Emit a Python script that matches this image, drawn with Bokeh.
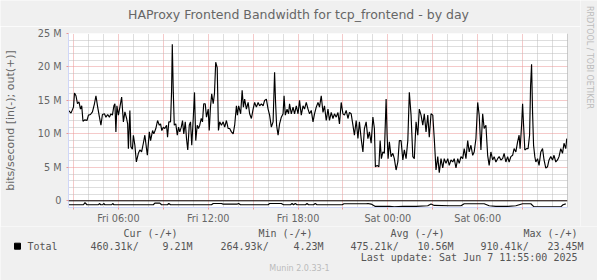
import datetime as dt
from math import pi

from bokeh.plotting import figure
from bokeh.layouts import column, row
from bokeh.models import (Range1d, FixedTicker, DatetimeTickFormatter, Span)
from bokeh.core.properties import value
from bokeh.embed import file_html
from bokeh.resources import INLINE

# ---------------- data ----------------
TITLE = "HAProxy Frontend Bandwidth for tcp_frontend - by day"
Y_LABEL = "bits/second [in(-); out(+)]"
WATERMARK = "RRDTOOL / TOBI OETIKER"
FOOTER = "Munin 2.0.33-1"
START = dt.datetime(2025, 6, 6, 2, 40)
END = dt.datetime(2025, 6, 7, 12, 0)

# minutes after START, and outbound traffic in Mbit/s (positive side)
out_minutes = [0, 10, 20, 24, 30, 36, 42, 48, 53, 58, 66, 74, 80, 88, 96, 104, 110, 117, 124, 130,
               136, 144, 150, 157, 164, 170, 176, 182, 186, 190, 194, 200, 206, 213, 220, 226, 233, 237, 240, 246,
               250, 256, 260, 266, 272, 280, 286, 293, 300, 306, 316, 324, 329, 337, 342, 350, 357, 364, 369, 374,
               380, 386, 393, 397, 402, 409, 413, 416, 420, 424, 430, 436, 441, 446, 452, 457, 462, 468, 473, 478,
               484, 489, 494, 500, 505, 510, 516, 521, 526, 532, 537, 542, 548, 553, 560, 564, 569, 574, 580, 585,
               590, 596, 601, 606, 613, 620, 626, 633, 640, 646, 653, 660, 666, 673, 677, 682, 690, 696, 701, 706,
               713, 720, 726, 733, 740, 746, 753, 760, 766, 773, 780, 786, 793, 800, 806, 813, 820, 826, 830, 834,
               840, 846, 853, 860, 864, 869, 876, 882, 886, 893, 900, 906, 913, 920, 926, 933, 940, 946, 953, 960,
               966, 973, 980, 986, 993, 1000, 1006, 1013, 1020, 1026, 1033, 1040, 1046, 1053, 1060, 1066, 1073, 1080, 1086, 1093,
               1100, 1106, 1113, 1120, 1126, 1133, 1140, 1146, 1153, 1160, 1166, 1173, 1180, 1186, 1193, 1200, 1206, 1213, 1220, 1226,
               1230, 1237, 1244, 1249, 1254, 1260, 1266, 1273, 1277, 1281, 1286, 1293, 1300, 1306, 1313, 1320, 1326, 1333, 1340, 1346,
               1353, 1360, 1366, 1373, 1380, 1386, 1393, 1400, 1406, 1413, 1420, 1426, 1433, 1440, 1446, 1453, 1460, 1466, 1473, 1480,
               1486, 1493, 1500, 1506, 1513, 1520, 1526, 1533, 1540, 1546, 1553, 1560, 1566, 1573, 1580, 1586, 1593, 1600, 1606, 1613,
               1620, 1626, 1633, 1640, 1646, 1653, 1660, 1666, 1673, 1680, 1686, 1693, 1700, 1706, 1713, 1720, 1726, 1733, 1740, 1746,
               1753, 1760, 1766, 1773, 1780, 1786, 1793, 1800, 1806, 1810, 1816, 1820, 1824, 1829, 1836, 1842, 1848, 1852, 1856, 1860,
               1864, 1869, 1873, 1880, 1886, 1893, 1900, 1906, 1913, 1920, 1926, 1933, 1940, 1946, 1953, 1960, 1966, 1973, 1980, 1986,
               1993, 1997]
out_mbit = [13.5, 13.1, 14.0, 16.1, 15.7, 14.5, 14.8, 13.7, 14.2, 11.9, 12.1, 12.0, 12.8, 12.9, 13.3, 14.5, 15.7, 14.0, 12.5, 11.3,
            12.9, 13.0, 12.5, 12.9, 12.5, 13.0, 12.8, 14.2, 14.5, 10.3, 14.2, 12.8, 14.0, 15.5, 11.8, 13.3, 12.3, 11.5, 7.8, 13.5,
            8.1, 7.7, 9.8, 8.3, 5.8, 7.1, 7.6, 7.3, 8.6, 9.8, 6.8, 10.3, 9.0, 10.5, 10.0, 10.8, 12.0, 11.3, 11.5, 10.5,
            11.0, 10.8, 11.3, 9.5, 11.8, 11.8, 16.2, 23.4, 16.2, 11.3, 11.5, 9.8, 11.0, 10.3, 11.0, 12.0, 10.0, 11.8, 9.3, 7.6,
            11.3, 11.8, 8.3, 12.3, 16.2, 9.0, 11.3, 10.8, 11.3, 12.3, 11.8, 14.5, 14.5, 12.5, 13.7, 10.5, 14.0, 16.0, 14.5, 16.0,
            20.7, 19.9, 10.5, 11.8, 11.3, 11.8, 11.0, 12.0, 10.8, 10.8, 10.3, 10.0, 11.3, 14.2, 12.8, 14.2, 13.0, 16.5, 14.0, 15.2,
            13.7, 14.7, 13.0, 12.3, 13.7, 14.7, 14.0, 14.7, 14.2, 14.5, 14.2, 15.0, 15.2, 13.7, 12.8, 11.0, 11.8, 19.2, 14.7, 11.3,
            9.8, 11.5, 12.5, 13.0, 15.7, 12.8, 13.7, 13.0, 14.5, 13.0, 14.0, 13.0, 14.2, 13.0, 15.0, 12.8, 14.2, 13.7, 14.7, 13.7,
            13.0, 13.5, 11.8, 13.0, 14.0, 14.7, 14.0, 15.7, 13.2, 14.2, 12.0, 13.7, 12.0, 13.2, 12.3, 13.0, 12.5, 13.2, 11.5, 14.7,
            13.0, 12.8, 13.5, 12.3, 13.2, 13.0, 11.3, 9.8, 12.0, 9.3, 11.8, 9.3, 7.3, 10.8, 11.8, 9.3, 10.3, 8.6, 12.5, 10.8,
            5.1, 5.3, 5.1, 9.0, 6.3, 7.3, 7.1, 15.2, 9.8, 6.3, 8.8, 6.6, 7.1, 6.3, 4.6, 5.8, 9.0, 9.0, 6.1, 7.6,
            6.3, 9.0, 16.2, 12.8, 6.6, 6.3, 11.8, 9.8, 13.7, 12.8, 11.3, 13.0, 10.3, 12.8, 9.5, 13.0, 12.8, 9.3, 4.6, 6.6,
            4.2, 6.3, 4.9, 6.3, 5.6, 6.3, 5.3, 6.1, 5.8, 6.3, 4.9, 6.3, 5.6, 6.6, 6.3, 7.8, 6.3, 9.0, 7.3, 8.3,
            6.8, 7.3, 9.3, 14.7, 12.8, 7.6, 13.0, 10.8, 11.3, 6.8, 5.3, 7.3, 6.1, 6.6, 5.8, 6.3, 6.6, 6.1, 6.3, 7.1,
            5.8, 6.6, 5.8, 6.6, 6.8, 7.8, 7.3, 8.8, 9.8, 7.8, 11.3, 14.5, 11.3, 7.6, 7.8, 7.8, 9.8, 17.2, 20.4, 13.2,
            8.3, 6.6, 5.8, 6.3, 5.3, 7.3, 7.8, 6.1, 4.9, 5.1, 6.1, 6.6, 6.1, 6.8, 5.8, 6.1, 6.6, 7.8, 7.1, 8.6,
            7.8, 9.3]

# inbound traffic drawn on the negative side (Mbit/s)
in_minutes = [0, 60, 66, 74, 120, 124, 129, 137, 141, 146, 173, 177, 182, 340, 346, 366, 373, 397, 402, 409,
              573, 580, 613, 620, 677, 682, 689, 800, 806, 853, 862, 890, 896, 902, 909, 916, 950, 956, 962, 982,
              989, 996, 1097, 1104, 1193, 1200, 1213, 1230, 1287, 1306, 1340, 1393, 1440, 1453, 1466, 1526, 1573, 1586, 1666, 1686,
              1713, 1760, 1793, 1820, 1853, 1866, 1973, 1982, 1993]
in_mbit = [-0.59, -0.59, -0.27, -0.59, -0.59, -0.40, -0.59, -0.59, -0.40, -0.59, -0.59, -0.40, -0.59, -0.59, -0.35, -0.35, -0.59, -0.59, -0.40, -0.59,
           -0.59, -0.40, -0.40, -0.49, -0.49, -0.40, -0.59, -0.59, -0.40, -0.40, -0.59, -0.59, -0.40, -0.59, -0.40, -0.59, -0.59, -0.40, -0.59, -0.59,
           -0.40, -0.59, -0.59, -0.44, -0.44, -0.40, -0.49, -0.84, -0.84, -0.90, -0.84, -0.84, -0.74, -0.49, -0.69, -0.74, -0.74, -0.44, -0.44, -0.74,
           -0.84, -0.84, -0.74, -0.44, -0.44, -0.90, -0.90, -0.59, -0.46]

y_ticks = [0, 5, 10, 15, 20, 25]
y_tick_labels = ["0", "5 M", "10 M", "15 M", "20 M", "25 M"]

series_name = "Total"
stat_headers = ["Cur (-/+)", "Min (-/+)", "Avg (-/+)", "Max (-/+)"]
stat_in = ["460.31k/", "264.93k/", "475.21k/", "910.41k/"]
stat_out = ["9.21M", "4.23M", "10.56M", "23.45M"]
last_update = "Last update: Sat Jun  7 11:55:00 2025"

# ---------------- styling / layout ----------------
BACK = "#F0F0F0"
FONT_COL = "#666666"
LEG_COL = "#555555"
WM_COL = "#BBBBBB"
AXIS_COL = "#CFD6F8"
MGRID = "#EB9595"
GRID = "#BDBDBD"
SANS = "DejaVu Sans"
MONO = "DejaVu Sans Mono"

W, H = 597, 280
MAIN_W = 580                       # chart column width; watermark strip to its right
TOP_H = 26                         # title strip height
CHART_H = 200                      # chart figure height (below title strip)
FL, FR, FT, FB = 67, 567, 33, 208  # frame edges in canvas pixels


def ms(t):
    return (t - dt.datetime(1970, 1, 1)).total_seconds() * 1000.0


out_x = [START + dt.timedelta(minutes=m) for m in out_minutes]
in_x = [START + dt.timedelta(minutes=m) for m in in_minutes]

hours = []
t = dt.datetime(2025, 6, 6, 3, 0)
while t < END:
    hours.append(t)
    t += dt.timedelta(hours=1)
six_h = [ms(h) for h in hours if h.hour % 6 == 0]
three_h = [ms(h) for h in hours if h.hour % 3 == 0]
three_only = [ms(h) for h in hours if h.hour % 3 == 0 and h.hour % 6 != 0]
one_h = [ms(h) for h in hours if h.hour % 3 != 0]


def blank(width, height):
    f = figure(width=width, height=height, x_range=Range1d(0, width),
               y_range=Range1d(height, 0), output_backend="svg",
               toolbar_location=None, title=None,
               x_axis_location=None, y_axis_location=None,
               min_border=0, min_border_left=0, min_border_right=0,
               min_border_top=0, min_border_bottom=0)
    f.grid.visible = False
    f.outline_line_color = None
    f.background_fill_color = BACK
    f.border_fill_color = BACK
    return f


# ---------- title strip ----------
tt = blank(MAIN_W, TOP_H)
tt.text(x=[298], y=[14], text=[TITLE], text_font=value(SANS),
        text_font_size=value("12.5px"), text_color=FONT_COL,
        text_align="center", text_baseline="middle")

# ---------- main chart ----------
top_off = FT - TOP_H
p = figure(width=MAIN_W, height=CHART_H, x_axis_type="datetime",
           x_range=Range1d(START, END), y_range=Range1d(-1, 25),
           output_backend="svg", toolbar_location=None, title=None,
           min_border_left=FL, min_border_right=MAIN_W - FR,
           min_border_top=top_off, min_border_bottom=TOP_H + CHART_H - FB)
p.border_fill_color = BACK
p.background_fill_color = "white"
p.outline_line_color = None

p.xgrid.ticker = FixedTicker(ticks=three_h, minor_ticks=one_h)
p.ygrid.ticker = FixedTicker(ticks=y_ticks,
                             minor_ticks=[v for v in range(-1, 25) if v % 5 != 0])
for g in (p.xgrid[0], p.ygrid[0]):
    g.grid_line_color = MGRID
    g.grid_line_dash = "1 1"
    g.minor_grid_line_color = GRID
    g.minor_grid_line_dash = "1 1"

fmt = "%a %H:%M"
p.xaxis.ticker = FixedTicker(ticks=six_h, minor_ticks=three_only)
p.xaxis.formatter = DatetimeTickFormatter(hours=fmt, hourmin=fmt, days=fmt,
                                          minutes=fmt, minsec=fmt)
p.yaxis.ticker = FixedTicker(ticks=y_ticks, minor_ticks=[])
p.yaxis.major_label_overrides = dict(zip(y_ticks, y_tick_labels))
for ax in (p.xaxis[0], p.yaxis[0]):
    ax.axis_line_color = AXIS_COL
    ax.major_tick_line_color = MGRID
    ax.minor_tick_line_color = MGRID
    ax.major_tick_in = 0
    ax.minor_tick_in = 0
    ax.major_tick_out = 2
    ax.minor_tick_out = 2
    ax.major_label_text_font = SANS
    ax.major_label_text_font_size = "9.7px"
    ax.major_label_text_color = FONT_COL
p.xaxis.major_label_standoff = 3
p.yaxis.major_label_standoff = 5
p.yaxis.axis_label = Y_LABEL
p.yaxis.axis_label_text_font = SANS
p.yaxis.axis_label_text_font_size = "11px"
p.yaxis.axis_label_text_font_style = "normal"
p.yaxis.axis_label_text_color = FONT_COL
p.yaxis.axis_label_standoff = 18

p.line(out_x, out_mbit, line_color="black", line_width=1.15)
p.line(in_x, in_mbit, line_color="black", line_width=1.15)
p.add_layout(Span(location=0, dimension="width", line_color="black", line_width=1))
p.add_layout(Span(location=ms(END), dimension="height", line_color="#9A9A9A", line_width=1))

# ---------- watermark strip (right of chart) ----------
wm = blank(W - MAIN_W, TOP_H + CHART_H)
wm.text(x=[589 - MAIN_W], y=[57], text=[WATERMARK], angle=-pi / 2,
        text_font=value(SANS), text_font_size=value("8px"), text_color=WM_COL,
        text_align="center", text_baseline="middle")

# ---------- legend block (below chart) ----------
lg = blank(W, H - TOP_H - CHART_H)
oy = TOP_H + CHART_H  # legend block starts at this canvas row
lg.scatter(x=[17], y=[245.7 - oy], marker="square", size=6,
           fill_color="black", line_color="black")
lg.text(x=[27], y=[245.7 - oy], text=[series_name], text_font=value(MONO),
        text_font_size=value("10px"), text_color=LEG_COL,
        text_align="left", text_baseline="middle")
lg.text(x=[150, 285, 417, 550], y=[233.3 - oy] * 4, text=stat_headers,
        text_font=value(MONO), text_font_size=value("10px"), text_color=LEG_COL,
        text_align="center", text_baseline="middle")
lg.text(x=[90, 220, 350, 480], y=[245.7 - oy] * 4, text=stat_in,
        text_font=value(MONO), text_font_size=value("10px"), text_color=LEG_COL,
        text_align="left", text_baseline="middle")
lg.text(x=[192, 323, 453, 583], y=[245.7 - oy] * 4, text=stat_out,
        text_font=value(MONO), text_font_size=value("10px"), text_color=LEG_COL,
        text_align="right", text_baseline="middle")
lg.text(x=[583], y=[257.3 - oy], text=[last_update],
        text_font=value(MONO), text_font_size=value("10px"), text_color=LEG_COL,
        text_align="right", text_baseline="middle")
lg.text(x=[299], y=[268.3 - oy], text=[FOOTER],
        text_font=value(SANS), text_font_size=value("8px"), text_color=WM_COL,
        text_align="center", text_baseline="middle")

left_col = column(row(tt, spacing=0), row(p, spacing=0), spacing=0)
layout = column(row(left_col, column(wm, spacing=0), spacing=0), lg, spacing=0)
open("out.html", "w").write(file_html(layout, INLINE))
